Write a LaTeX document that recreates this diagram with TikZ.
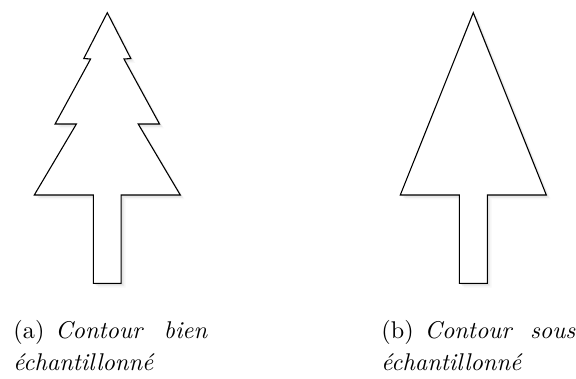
\documentclass[tikz,border=0pt]{standalone}
\usepackage{tikz}
\usetikzlibrary{shadows}

\begin{document}
\begin{tikzpicture}[
  x=0.413pt, y=-0.413pt,
  tree/.style={draw, fill=white, line width=0.45pt, line join=miter,
    drop shadow={shadow xshift=1.8pt, shadow yshift=-1.8pt, opacity=0.06},
    drop shadow={shadow xshift=1.2pt, shadow yshift=-1.2pt, opacity=0.1},
    drop shadow={shadow xshift=0.6pt, shadow yshift=-0.6pt, opacity=0.12}},
  legende/.style={anchor=base west, inner sep=0pt, text width=80pt, align=justify,
    font={\fontsize{10}{13.2}\selectfont}, execute at begin node=\sloppy}
]
\useasboundingbox (0,0) rectangle (576,379);

% contour bien echantillonne
\draw[tree] (107.3,12.7) -- (130.8,58.5) -- (124,59) -- (159.5,124) -- (138.2,124)
  -- (180.3,195) -- (121.2,195) -- (121.2,283.3) -- (93.4,283.3) -- (93.4,195)
  -- (34.3,195) -- (76.4,124) -- (55.1,124) -- (90.6,59) -- (83.8,58.5) -- cycle;

% contour sous echantillonne
\draw[tree] (473.3,12.7) -- (546.3,195) -- (487.3,195) -- (487.3,283.3)
  -- (459.3,283.3) -- (459.3,195) -- (400.3,195) -- cycle;

\node[legende] (capa) at (13,339) {(a)\hspace{4.5pt}\textit{Contour bien échantillonné}};
\node[legende] (capb) at (381,339) {(b)\hspace{4.5pt}\textit{Contour sous échantillonné}};

\end{tikzpicture}
\end{document}
